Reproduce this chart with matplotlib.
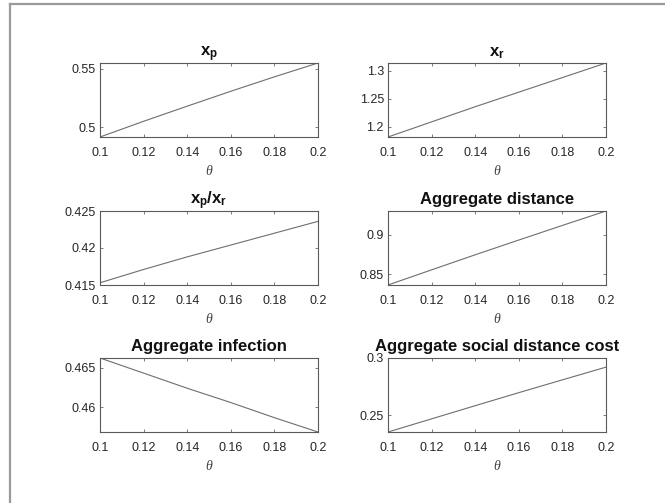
import matplotlib
matplotlib.use("Agg")
import matplotlib.pyplot as plt
from matplotlib.lines import Line2D
from matplotlib.ticker import FuncFormatter

plt.rcParams["font.family"] = ["Liberation Sans", "DejaVu Sans"]
plt.rcParams["mathtext.fontset"] = "custom"
plt.rcParams["mathtext.rm"] = "Liberation Sans"
plt.rcParams["mathtext.bf"] = "Liberation Sans:bold"
plt.rcParams["mathtext.it"] = "Liberation Serif:italic"

# comparative statics over theta
theta = [0.10, 0.12, 0.14, 0.16, 0.18, 0.20]
x_p = [0.4915, 0.5050, 0.5180, 0.5308, 0.5432, 0.5551]
x_r = [1.182, 1.209, 1.236, 1.262, 1.288, 1.314]
ratio = [0.4153, 0.4171, 0.4188, 0.4204, 0.4220, 0.4236]
agg_dist = [0.8364, 0.8555, 0.8745, 0.8931, 0.9115, 0.9297]
agg_inf = [0.4662, 0.4643, 0.4624, 0.4606, 0.4587, 0.4569]
agg_cost = [0.2353, 0.2468, 0.2583, 0.2697, 0.2809, 0.2920]

titles = [r"$\mathbf{x_p}$", r"$\mathbf{x_r}$", r"$\mathbf{x_p/x_r}$",
          "Aggregate distance", "Aggregate infection", "Aggregate social distance cost"]
series = [x_p, x_r, ratio, agg_dist, agg_inf, agg_cost]
yticks = [[0.5, 0.55], [1.2, 1.25, 1.3], [0.415, 0.42, 0.425],
          [0.85, 0.9], [0.46, 0.465], [0.25, 0.3]]
ylims = [None, None, (0.415, 0.425), None, None, (None, 0.3)]
xticks = [0.1, 0.12, 0.14, 0.16, 0.18, 0.2]

W, H = 665, 503
fig = plt.figure(figsize=(W / 100, H / 100), dpi=100)
fig.patch.set_facecolor("white")

# window frame
fig.add_artist(Line2D([10 / W, 10 / W], [0, 1 - 4 / H], color="#9a9a9a", lw=1.6))
fig.add_artist(Line2D([10 / W, 1], [1 - 4 / H, 1 - 4 / H], color="#9a9a9a", lw=1.6))

lefts = [100, 388]
tops = [63, 211, 358]
aw, ah = 218, 74

tick_col = "#262626"
fmt = FuncFormatter(lambda v, p: f"{v:g}")
for i, (title, ys) in enumerate(zip(titles, series)):
    r, c = divmod(i, 2)
    ax = fig.add_axes([lefts[c] / W, 1 - (tops[r] + ah) / H, aw / W, ah / H])
    ax.plot(theta, ys, color="#6e6e6e", lw=0.8)
    ax.set_xlim(0.1, 0.2)
    lo, hi = min(ys), max(ys)
    if ylims[i] is None:
        ax.set_ylim(lo, hi)
    else:
        a, b = ylims[i]
        ax.set_ylim(lo if a is None else a, hi if b is None else b)
    ax.set_xticks(xticks)
    ax.set_yticks(yticks[i])
    ax.xaxis.set_major_formatter(fmt)
    ax.yaxis.set_major_formatter(fmt)
    ax.tick_params(direction="in", length=2.5, width=0.6, colors="#666666",
                   labelcolor=tick_col, labelsize=9, top=True, right=True)
    ax.tick_params(axis="x", pad=7)
    ax.tick_params(axis="y", pad=3)
    for s in ax.spines.values():
        s.set_color("#5a5a5a")
        s.set_linewidth(0.8)
    ax.set_title(title, fontsize=12, fontweight="bold", pad=5, color="#111111")
    ax.set_xlabel(r"$\mathit{\theta}$", fontsize=10, color="#444444", labelpad=4)

fig.savefig("out.png", dpi=100, facecolor="white")
